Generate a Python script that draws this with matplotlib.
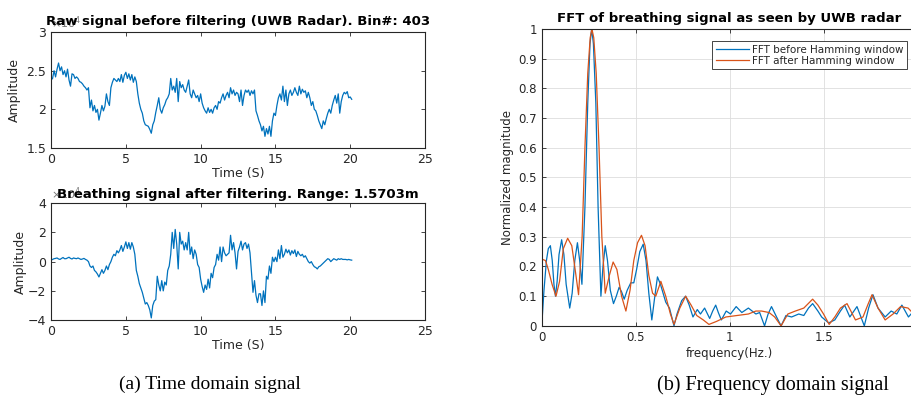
import numpy as np
import matplotlib
matplotlib.use("Agg")
import matplotlib.pyplot as plt

# sampling step of both time signals (s)
dt = 0.1

# raw signal (x1e4), one row per second
raw = [2.38, 2.40, 2.50, 2.42, 2.52, 2.60, 2.50, 2.55, 2.45, 2.50,
       2.42, 2.52, 2.38, 2.30, 2.46, 2.45, 2.40, 2.42, 2.40, 2.36,
       2.35, 2.33, 2.30, 2.28, 2.25, 2.28, 2.02, 2.12, 1.98, 2.05,
       1.96, 2.00, 1.86, 1.95, 2.05, 1.98, 2.04, 2.20, 2.10, 2.05,
       2.28, 2.35, 2.40, 2.38, 2.36, 2.40, 2.36, 2.45, 2.35, 2.44,
       2.48, 2.40, 2.46, 2.38, 2.45, 2.35, 2.42, 2.36, 2.20, 2.08,
       2.00, 1.95, 1.85, 1.80, 1.79, 1.78, 1.74, 1.69, 1.80, 1.85,
       1.96, 2.05, 2.15, 2.00, 1.95, 2.02, 2.06, 2.12, 2.15, 2.20,
       2.40, 2.25, 2.30, 2.22, 2.40, 2.10, 2.36, 2.28, 2.32, 2.25,
       2.22, 2.30, 2.38, 2.20, 2.15, 2.25, 2.20, 2.15, 2.18, 2.10,
       2.20, 2.08, 2.02, 1.98, 1.95, 2.02, 1.96, 2.00, 1.95, 2.02,
       2.05, 2.00, 2.10, 2.08, 2.15, 2.20, 2.12, 2.18, 2.22, 2.15,
       2.28, 2.20, 2.25, 2.18, 2.22, 2.20, 2.10, 2.25, 2.05, 2.18,
       2.25, 2.22, 2.25, 2.18, 2.24, 2.20, 2.25, 1.98, 1.92, 1.85,
       1.80, 1.72, 1.78, 1.65, 1.75, 1.68, 1.78, 1.65, 1.85, 1.95,
       1.92, 2.05, 2.15, 2.20, 2.12, 2.30, 2.10, 2.25, 2.05, 2.20,
       2.25, 2.18, 2.22, 2.28, 2.22, 2.18, 2.30, 2.20, 2.26, 2.22,
       2.24, 2.15, 2.22, 2.15, 2.05, 2.10, 2.00, 1.98, 1.92, 1.85,
       1.80, 1.75, 1.85, 1.80, 1.88, 1.95, 2.00, 1.95, 2.05, 2.12,
       2.18, 2.08, 2.20, 1.95, 2.10, 2.18, 2.22, 2.20, 2.23, 2.15,
       2.16, 2.13]

# filtered breathing signal, one row per second
filt = [0.10, 0.15, 0.20, 0.22, 0.25, 0.18, 0.15, 0.22, 0.28, 0.20,
        0.20, 0.25, 0.30, 0.22, 0.18, 0.25, 0.22, 0.20, 0.25, 0.20,
        0.15, 0.18, 0.22, 0.15, 0.10, 0.00, -0.30, -0.40, -0.30, -0.60,
        -0.70, -0.85, -1.05, -0.80, -0.55, -0.80, -0.60, -0.30, -0.55, -0.20,
        0.00, 0.30, 0.50, 0.40, 0.75, 0.60, 0.80, 1.10, 0.70, 1.00,
        1.35, 0.90, 1.30, 0.85, 1.30, 1.00, 0.50, -0.60, -1.00, -1.50,
        -1.80, -2.10, -2.50, -2.90, -2.80, -3.00, -3.30, -3.85, -3.00, -2.70,
        -2.60, -1.00, -1.60, -2.00, -1.30, -2.00, -1.40, -1.60, -0.60, -0.30,
        0.50, 2.00, 0.90, 2.20, 1.20, -0.50, 2.00, 1.20, 1.40, 0.80,
        1.30, 0.80, 2.00, 0.50, 1.00, 0.20, 0.80, 0.50, -0.20, -0.40,
        -1.20, -1.70, -2.10, -1.60, -1.90, -1.20, -1.80, -0.80, -1.10, -0.40,
        -0.20, 0.50, 0.10, 1.00, 0.00, 1.00, 0.60, 0.40, 0.50, 0.60,
        1.80, 0.80, 1.30, 0.60, -0.50, 0.70, 1.00, 1.40, 0.80, 1.20,
        1.30, 0.90, 1.20, 0.60, -0.80, -2.10, -1.30, -2.30, -2.80, -2.20,
        -2.20, -3.00, -2.00, -2.80, -1.00, -1.20, -0.30, -0.80, 0.30, 0.00,
        0.30, 0.00, 0.80, 0.20, 1.10, 0.30, 0.50, 0.85, 0.60, 0.80,
        0.45, 0.75, 0.55, 0.80, 0.35, 0.70, 0.50, 0.40, 0.50, 0.30,
        0.40, 0.20, 0.00, -0.10, 0.00, -0.20, -0.35, -0.40, -0.50, -0.35,
        -0.30, -0.20, -0.10, 0.00, 0.10, 0.20, 0.15, 0.00, 0.10, 0.20,
        0.15, 0.10, 0.20, 0.15, 0.20, 0.15, 0.15, 0.15, 0.12, 0.15,
        0.12, 0.10]

# FFT magnitudes
f_before = [0.0, 0.012, 0.025, 0.035, 0.046, 0.056, 0.065, 0.073, 0.082, 0.092, 0.106, 0.118, 0.13, 0.149, 0.162,
            0.176, 0.19, 0.202, 0.214, 0.23, 0.245, 0.257, 0.266, 0.275, 0.288, 0.30, 0.315, 0.326, 0.338, 0.35,
            0.365, 0.382, 0.397, 0.412, 0.425, 0.439, 0.455, 0.474, 0.49, 0.505, 0.522, 0.54, 0.555, 0.57, 0.586,
            0.60, 0.616, 0.632, 0.66, 0.68, 0.704, 0.72, 0.745, 0.766, 0.785, 0.805, 0.828, 0.845, 0.867, 0.894,
            0.91, 0.926, 0.94, 0.956, 0.982, 1.005, 1.035, 1.065, 1.10, 1.14, 1.16, 1.186, 1.205, 1.223, 1.25,
            1.274, 1.30, 1.33, 1.368, 1.395, 1.42, 1.442, 1.47, 1.49, 1.527, 1.56, 1.59, 1.612, 1.64, 1.678,
            1.717, 1.74, 1.763, 1.79, 1.828, 1.86, 1.89, 1.917, 1.952, 1.98]
mag_before = [0.0, 0.12, 0.22, 0.26, 0.27, 0.22, 0.14, 0.10, 0.15, 0.24, 0.29, 0.24, 0.14, 0.06, 0.11,
              0.22, 0.28, 0.22, 0.14, 0.40, 0.75, 0.95, 1.0, 0.95, 0.75, 0.40, 0.10, 0.20, 0.27, 0.22,
              0.12, 0.075, 0.10, 0.13, 0.115, 0.09, 0.12, 0.145, 0.145, 0.19, 0.25, 0.275, 0.22, 0.11, 0.02,
              0.09, 0.165, 0.14, 0.08, 0.06, 0.0, 0.04, 0.085, 0.10, 0.07, 0.03, 0.055, 0.04, 0.06, 0.025,
              0.05, 0.07, 0.045, 0.02, 0.05, 0.04, 0.065, 0.045, 0.06, 0.04, 0.045, 0.0, 0.04, 0.065, 0.03,
              0.0, 0.035, 0.03, 0.04, 0.035, 0.06, 0.075, 0.05, 0.03, 0.01, 0.02, 0.05, 0.07, 0.03, 0.065,
              0.0, 0.06, 0.105, 0.06, 0.03, 0.05, 0.04, 0.07, 0.03, 0.05]
f_after = [0.0, 0.02, 0.035, 0.055, 0.076, 0.095, 0.115, 0.138, 0.16, 0.18, 0.196, 0.215, 0.23, 0.245, 0.258,
           0.267, 0.277, 0.29, 0.305, 0.32, 0.338, 0.36, 0.38, 0.40, 0.425, 0.448, 0.47, 0.49, 0.51, 0.531,
           0.55, 0.57, 0.59, 0.607, 0.634, 0.66, 0.685, 0.704, 0.735, 0.766, 0.795, 0.825, 0.86, 0.89, 0.93,
           0.98, 1.04, 1.10, 1.14, 1.17, 1.21, 1.24, 1.274, 1.31, 1.35, 1.395, 1.442, 1.47, 1.50, 1.53,
           1.56, 1.59, 1.625, 1.67, 1.71, 1.735, 1.758, 1.79, 1.828, 1.87, 1.91, 1.95, 1.98]
mag_after = [0.225, 0.22, 0.19, 0.14, 0.10, 0.15, 0.26, 0.295, 0.27, 0.18, 0.105, 0.30, 0.60, 0.85, 0.97,
             1.0, 0.97, 0.85, 0.60, 0.30, 0.11, 0.17, 0.215, 0.19, 0.10, 0.05, 0.12, 0.22, 0.28, 0.305,
             0.27, 0.17, 0.11, 0.10, 0.15, 0.10, 0.04, 0.005, 0.06, 0.10, 0.07, 0.035, 0.02, 0.005, 0.015,
             0.03, 0.035, 0.04, 0.05, 0.05, 0.045, 0.03, 0.0, 0.04, 0.05, 0.06, 0.09, 0.07, 0.04, 0.005,
             0.03, 0.06, 0.075, 0.02, 0.03, 0.07, 0.105, 0.06, 0.02, 0.04, 0.065, 0.06, 0.04]

blue = '#0072BD'
orange = '#D95319'
dark = '#262626'

plt.rcParams['font.family'] = 'DejaVu Sans'

t_raw = np.arange(len(raw)) * dt
t_filt = np.arange(len(filt)) * dt


def matlab_style(ax, fs=9):
    ax.tick_params(direction='in', top=True, right=True, length=3, width=0.6,
                   colors=dark, labelsize=fs, labelcolor=dark)
    for s in ax.spines.values():
        s.set_color(dark)
        s.set_linewidth(0.8)


fig = plt.figure(figsize=(9.12, 4.12), dpi=100)

# (a) top: raw signal
ax1 = fig.add_axes([0.056, 0.641, 0.410, 0.281])
ax1.plot(t_raw, raw, color=blue, lw=0.9)
ax1.set_xlim(0, 25)
ax1.set_ylim(1.5, 3)
ax1.set_xticks([0, 5, 10, 15, 20, 25])
ax1.set_yticks([1.5, 2, 2.5, 3])
ax1.set_yticklabels(['1.5', '2', '2.5', '3'])
matlab_style(ax1)
ax1.set_xlabel('Time (S)', fontsize=9, color=dark, labelpad=1)
ax1.set_ylabel('Amplitude', fontsize=9, color=dark, labelpad=4)
ax1.text(0.0, 1.01, r'$\times10^4$', transform=ax1.transAxes, fontsize=8, color='#777777', va='bottom')
ax1.set_title('Raw signal before filtering (UWB Radar). Bin#: 403', fontsize=9.5,
              fontweight='bold', pad=5)

# (a) bottom: filtered signal
ax2 = fig.add_axes([0.056, 0.223, 0.410, 0.284])
ax2.plot(t_filt, filt, color=blue, lw=0.9)
ax2.set_xlim(0, 25)
ax2.set_ylim(-4, 4)
ax2.set_xticks([0, 5, 10, 15, 20, 25])
ax2.set_yticks([-4, -2, 0, 2, 4])
matlab_style(ax2)
ax2.set_xlabel('Time (S)', fontsize=9, color=dark, labelpad=1)
ax2.set_ylabel('Amplitude', fontsize=9, color=dark, labelpad=1)
ax2.text(0.0, 1.01, r'$\times10^4$', transform=ax2.transAxes, fontsize=8, color='#777777', va='bottom')
ax2.set_title('Breathing signal after filtering. Range: 1.5703m', fontsize=9.5,
              fontweight='bold', pad=4)

# (b) FFT
ax3 = fig.add_axes([0.594, 0.209, 0.412, 0.721])
ax3.plot(f_before, mag_before, color=blue, lw=0.9, label='FFT before Hamming window')
ax3.plot(f_after, mag_after, color=orange, lw=0.9, label='FFT after Hamming window')
ax3.set_xlim(0, 2)
ax3.set_ylim(0, 1)
ax3.set_xticks([0, 0.5, 1, 1.5, 2])
ax3.set_xticklabels(['0', '0.5', '1', '1.5', ''])
ax3.set_yticks(np.arange(0, 1.01, 0.1))
ax3.set_yticklabels(['0', '0.1', '0.2', '0.3', '0.4', '0.5', '0.6', '0.7', '0.8', '0.9', '1'])
ax3.grid(True, color='#dddddd', lw=0.6)
ax3.set_axisbelow(True)
matlab_style(ax3, fs=8.5)
ax3.set_xlabel('frequency(Hz.)', fontsize=8.5, color=dark, labelpad=2)
ax3.set_ylabel('Normalized magnitude', fontsize=8.5, color=dark, labelpad=3)
ax3.set_title('FFT of breathing signal as seen by UWB radar', fontsize=9.5,
              fontweight='bold', pad=5)
leg = ax3.legend(loc='upper right', bbox_to_anchor=(0.985, 0.975), fontsize=7.5,
                 fancybox=False, framealpha=1, borderpad=0.3, handlelength=3.2,
                 handletextpad=0.3, labelspacing=0.1)
leg.get_frame().set_edgecolor(dark)
leg.get_frame().set_linewidth(0.6)
for txt in leg.get_texts():
    txt.set_color(dark)

fig.text(0.230, 0.066, '(a) Time domain signal', fontsize=14,
         family='Liberation Serif', ha='center', va='center')
fig.text(0.848, 0.066, '(b) Frequency domain signal', fontsize=14.5,
         family='Liberation Serif', ha='center', va='center')

fig.savefig('out.png', dpi=100)
